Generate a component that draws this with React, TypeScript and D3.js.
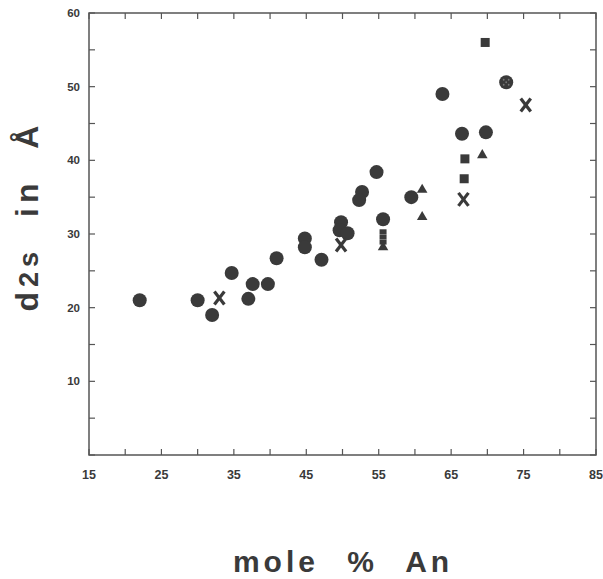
import React from 'react';
import * as d3 from 'd3';

// values: [mole % An, d2s in Å]
const circles: [number, number][] = [
  [22, 21], [30, 21], [32, 19], [34.7, 24.7], [37, 21.2], [37.6, 23.2], [39.7, 23.2],
  [40.9, 26.7], [44.8, 29.4], [44.8, 28.2], [47.1, 26.5], [49.8, 31.6], [49.6, 30.5],
  [50.7, 30.1], [52.7, 35.7], [52.3, 34.6], [54.7, 38.4], [55.6, 32.0], [59.5, 35.0],
  [63.8, 49.0], [66.5, 43.6], [69.8, 43.8],
];
const dottedCircles: [number, number][] = [[72.6, 50.6]];
const crosses: [number, number][] = [[33, 21.3], [49.8, 28.5], [66.7, 34.7], [75.3, 47.5]];
const squares: [number, number][] = [[69.7, 56.0], [66.9, 40.2], [66.8, 37.5]];
const smallSquares: [number, number][] = [[55.6, 30.3], [55.6, 29.6], [55.6, 28.9]];
const triangles: [number, number][] = [[69.3, 40.7], [61.0, 36.0], [61.0, 32.3], [55.6, 28.2]];

const xTickLabels = [15, 25, 35, 45, 55, 65, 75, 85];
const yTickLabels = [10, 20, 30, 40, 50, 60];
const xMinor = d3.range(15, 86, 5);
const yMinor = d3.range(0, 61, 5);

const W = 603;
const H = 579;
const left = 89, right = 596, top = 13, bottom = 455;

const x = d3.scaleLinear().domain([15, 85]).range([left, right]);
const y = d3.scaleLinear().domain([0, 60]).range([bottom, top]);

const ink = '#3a3a3a';
const axisInk = '#555';
const font = '"Liberation Sans", Arial, Helvetica, sans-serif';

const tri = d3.symbol().type(d3.symbolTriangle).size(48)();

export default function App() {
  const tickLen = 6;
  return (
    <svg width={W} height={H} style={{ position: 'absolute', left: 0, top: 0, background: '#fff' }}>
      {/* frame */}
      <rect x={left} y={top} width={right - left} height={bottom - top} fill="none" stroke={axisInk} strokeWidth={1.5} />

      {/* inward ticks on all four sides */}
      {xMinor.map((v) => (
        <g key={'xt' + v}>
          <line x1={x(v)} x2={x(v)} y1={bottom} y2={bottom - tickLen} stroke={axisInk} strokeWidth={1.2} />
          <line x1={x(v)} x2={x(v)} y1={top} y2={top + tickLen} stroke={axisInk} strokeWidth={1.2} />
        </g>
      ))}
      {yMinor.map((v) => (
        <g key={'yt' + v}>
          <line x1={left} x2={left + tickLen} y1={y(v)} y2={y(v)} stroke={axisInk} strokeWidth={1.2} />
          <line x1={right} x2={right - tickLen} y1={y(v)} y2={y(v)} stroke={axisInk} strokeWidth={1.2} />
        </g>
      ))}

      {/* tick labels */}
      {xTickLabels.map((v) => (
        <text key={'xl' + v} x={x(v)} y={479} textAnchor="middle" fontFamily={font} fontWeight="bold"
          fontSize={12.5} fill={ink}>{v}</text>
      ))}
      {yTickLabels.map((v) => (
        <text key={'yl' + v} x={80} y={y(v) + 4} textAnchor="end" fontFamily={font} fontWeight="bold"
          fontSize={11.5} fill={ink}>{v}</text>
      ))}

      {/* axis titles */}
      <text x={343} y={572} textAnchor="middle" fontFamily={font} fontWeight="bold" fontSize={30}
        fill={ink} letterSpacing={4} wordSpacing={16}>mole % An</text>
      <text transform="translate(38,216) rotate(-90)" textAnchor="middle" fontFamily={font} fontWeight="bold"
        fontSize={32} fill={ink} letterSpacing={5} wordSpacing={16}>
        d<tspan fontSize={27}>2s</tspan> in Å
      </text>

      {/* points */}
      {circles.map(([a, b], i) => (
        <circle key={'c' + i} cx={x(a)} cy={y(b)} r={7} fill={ink} />
      ))}
      {dottedCircles.map(([a, b], i) => (
        <g key={'d' + i}>
          <circle cx={x(a)} cy={y(b)} r={7} fill={ink} />
          {[[-2.5, -2.5], [2.5, -2.5], [-2.5, 2.5], [2.5, 2.5], [0, 0]].map(([dx, dy], j) => (
            <circle key={j} cx={x(a) + dx} cy={y(b) + dy} r={0.9} fill="#777" />
          ))}
        </g>
      ))}
      {squares.map(([a, b], i) => (
        <rect key={'s' + i} x={x(a) - 4.5} y={y(b) - 4.5} width={9} height={9} fill={ink} />
      ))}
      {smallSquares.map(([a, b], i) => (
        <rect key={'ss' + i} x={x(a) - 3.5} y={y(b) - 2.5} width={7} height={5} fill={ink} />
      ))}
      {triangles.map(([a, b], i) => (
        <path key={'t' + i} d={tri as string} transform={`translate(${x(a)},${y(b)})`} fill={ink} />
      ))}
      {crosses.map(([a, b], i) => (
        <g key={'x' + i} stroke={ink} strokeWidth={3.2}>
          <line x1={x(a) - 5} x2={x(a) + 5} y1={y(b) - 6.5} y2={y(b) + 6.5} />
          <line x1={x(a) + 5} x2={x(a) - 5} y1={y(b) - 6.5} y2={y(b) + 6.5} />
        </g>
      ))}
    </svg>
  );
}
